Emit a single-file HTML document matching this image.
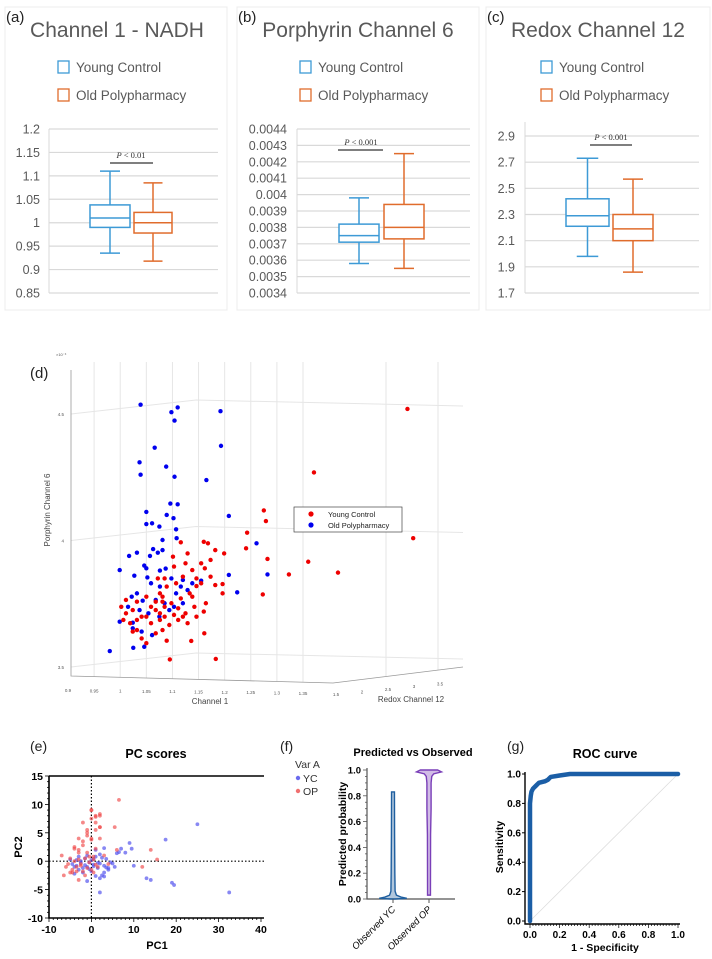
<!DOCTYPE html>
<html><head><meta charset="utf-8"><style>
body{margin:0;background:#fff;}
svg{display:block;font-family:"Liberation Sans",sans-serif;}
</style></head><body>
<svg id="fig" width="712" height="959" viewBox="0 0 712 959" xmlns="http://www.w3.org/2000/svg">
<rect width="712" height="959" fill="#fff"/>
<g id="topPanels"></g>
<g id="d3"></g>
<g id="pc"></g>
<g id="vio"></g>
<g id="roc"></g>
</svg>
<script>
// ---- data: box plots ----
const boxGroups = ["Young Control", "Old Polypharmacy"];
const aTicks = [1.2,1.15,1.1,1.05,1,0.95,0.9,0.85];
const aYC = [0.935,0.99,1.01,1.038,1.11];
const aOP = [0.918,0.978,1.0,1.022,1.085];
const bTicks = [0.0044,0.0043,0.0042,0.0041,0.004,0.0039,0.0038,0.0037,0.0036,0.0035,0.0034];
const bYC = [0.00358,0.00371,0.00375,0.00382,0.00398];
const bOP = [0.00355,0.00373,0.0038,0.00394,0.00425];
const cTicks = [2.9,2.7,2.5,2.3,2.1,1.9,1.7];
const cYC = [1.98,2.21,2.29,2.42,2.73];
const cOP = [1.86,2.10,2.19,2.30,2.57];
// ---- data: 3D scatter (Channel 1, Porphyrin x1e-3) ----
const d3Blue_c1 = [1.039,1.098,1.110,1.104,1.192,1.193,1.066,1.037,1.088,1.039,1.104,1.165,1.096,1.110,1.050,1.089,1.102,1.208,1.050,1.061,1.075,1.107,1.081,1.108,1.261,1.063,1.081,1.072,1.032,1.017,1.057,0.999,1.046,1.050,1.076,1.027,1.052,1.087,1.208,1.282,1.224,0.980,1.025,1.046,0.999,1.024,1.061,1.022,1.032,1.043,1.068,1.085,1.103,1.120,1.138,1.155,1.129,1.098,1.116,1.076,1.059,1.037,1.054,1.075,1.094,1.024,1.041,1.015,1.107,1.120];
const d3Blue_p6 = [4.537,4.507,4.526,4.474,4.511,4.374,4.367,4.309,4.292,4.260,4.252,4.239,4.146,4.143,4.113,4.101,4.088,4.097,4.065,4.068,4.055,4.044,4.002,4.009,3.989,3.966,3.962,3.952,3.952,3.939,3.939,3.883,3.901,3.890,3.881,3.861,3.854,3.889,3.864,3.866,3.795,3.563,3.576,3.580,3.679,3.675,3.626,3.778,3.791,3.762,3.765,3.752,3.738,3.844,3.831,3.841,3.804,3.850,3.818,3.818,3.831,3.725,3.712,3.699,3.725,3.653,3.640,3.738,3.791,3.752];
const d3Red_c1 = [1.550,1.371,1.275,1.279,1.243,1.241,1.561,1.360,1.417,1.323,1.282,1.273,1.199,1.196,1.196,1.168,1.160,1.182,1.173,1.162,1.116,1.129,1.101,1.103,1.138,1.155,1.146,1.133,1.164,1.160,1.146,1.125,1.111,1.085,1.068,1.050,1.032,1.011,1.002,1.024,1.041,1.059,1.076,1.094,1.081,1.068,1.032,1.024,1.041,1.050,1.089,1.136,1.161,1.095,1.183,1.076,1.089,1.107,1.120,1.072,1.081,1.098,1.116,1.138,1.142,1.173,1.182,1.011,1.006,1.019,1.059,1.068,1.076,1.085,1.032,1.050,1.155,1.146,1.125,1.085,1.111,1.129,1.120,1.103,1.081];
const d3Red_p6 = [4.520,4.269,4.119,4.077,4.031,3.969,4.009,3.916,3.873,3.866,3.927,3.787,3.949,3.828,3.791,3.989,3.995,3.962,3.923,3.890,3.993,3.949,3.936,3.897,3.883,3.831,3.820,3.791,3.752,3.719,3.699,3.712,3.732,3.738,3.758,3.778,3.758,3.765,3.738,3.725,3.699,3.673,3.686,3.666,3.646,3.633,3.646,3.640,3.613,3.594,3.604,3.603,3.633,3.530,3.532,3.791,3.818,3.831,3.857,3.850,3.778,3.752,3.771,3.778,3.738,3.857,3.824,3.712,3.686,3.673,3.738,3.725,3.712,3.699,3.686,3.699,3.910,3.850,3.910,3.850,3.686,3.673,3.699,3.706,3.758];
const d3C1Ticks = [0.9,0.95,1,1.05,1.1,1.15,1.2,1.25,1.3,1.35];
const d3P6Ticks = [3.5,4,4.5];
const d3RedoxTicks = [1.5,2,2.5,3,3.5];
// ---- data: PC scores ----
const pcYCx = [-5,-4.5,-4,-3.5,-3,-2.5,-2,-1.5,-1,-0.5,0,0.5,1,1.5,2,2.5,3,3.5,4,4.5,-4,-3,-2,-1,0,1,2,3,-3.5,-2.5,-1.5,-0.5,0.5,1.5,2.5,3.5,5,6,7,8,2,3,4,25,32.5,19,19.5,17.5,13,14,10,9,9.5,2,3,6.5,5.5,-1,1,0.5];
const pcYCy = [0.3,-0.5,-1,0.2,-1.5,-0.3,-2,0.5,-1,-0.2,-1.8,-0.6,0.8,-1.2,-0.4,-2.5,-0.8,0.4,-1.5,-0.2,-2.2,0.8,-1.2,1,0.2,-2.6,1.2,-2,-0.8,0,-0.7,-1.4,0.4,-0.3,0.6,-1.1,-0.4,1.4,2.2,1.5,-3,2.3,-1.2,6.5,-5.5,-3.8,-4.2,3.8,-3,-3.3,-0.8,3.2,2.2,-5.5,-2.7,1.6,-1,-3.5,2,-0.9];
const pcOPx = [-6,-5.5,-5,-4.5,-4,-3.5,-3,-2.5,-2,-1.5,-1,-0.5,0,0.5,1,1.5,-4,-3,-2,-1,0,1,-4.5,-3.5,-2.5,-1.5,-0.5,0.5,-3,-2,-1,0,1,2,-2,-1,0,1,2,0,1,2,6.5,14,15.5,12,5.5,1,2,0,2,-1,-3,-4,-7,6,4,-6.5,-5,-3,0.5,3];
const pcOPy = [-1,-0.5,0.5,-1.5,0,-1,0.3,-0.8,-1.8,0.5,-1.2,-0.2,-1.5,0.3,-0.6,-1,2.5,2,2.8,1.5,3.8,2.2,-2,-1.8,-0.5,-2.5,0.8,-2,4,3.5,5,4,5.5,6,6.8,4.5,9,8,8.3,7.5,6.8,4,10.8,2,0.3,-1,6,7.8,8,9,6,5.5,1.5,2.2,1,2,-0.5,-2.5,-2,-3.3,0.8,1];
const pcXTicks = [-10,0,10,20,30,40];
const pcYTicks = [15,10,5,0,-5,-10];
// ---- data: violin ----
const vioCats = ["Observed YC","Observed OP"];
const vioYC_p = [0,0.005,0.015,0.03,0.06,0.2,0.5,0.83];
const vioYC_w = [0.1,1,0.55,0.2,0.1,0.08,0.06,0.05];
const vioOP_p = [0.03,0.5,0.7,0.9,0.95,0.97,0.985,1.0];
const vioOP_w = [0.05,0.06,0.1,0.1,0.15,0.3,0.9,0.6];
const vioTicks = [0,0.2,0.4,0.6,0.8,1.0];
// ---- data: ROC ----
const rocFpr = [0,0,0,0,0.005,0.01,0.02,0.04,0.06,0.1,0.12,0.14,0.2,0.27,1];
const rocTpr = [0,0.1,0.5,0.8,0.85,0.88,0.9,0.92,0.94,0.95,0.96,0.98,0.99,1.0,1.0];
const rocTicks = [0,0.2,0.4,0.6,0.8,1.0];

const NS="http://www.w3.org/2000/svg";
function mk(parent, tag, attrs, text){
  const e=document.createElementNS(NS,tag);
  for(const k in attrs) e.setAttribute(k,attrs[k]);
  if(text!==undefined) e.textContent=text;
  parent.appendChild(e); return e;
}
function lin(d0,d1,r0,r1){return v=>r0+(v-d0)/(d1-d0)*(r1-r0);}

// ---------- TOP BOX PLOTS ----------
(function(){
const topG=document.getElementById('topPanels');
const YC='#3d9ad6', OP='#e06c2c';
const panels=[
 {lab:'(a)',title:'Channel 1 - NADH',card:[5,7,222,303],tx:117,lx:58,px0:49,px1:218,ytop:129,ybot:293,ticks:aTicks,yc:aYC,op:aOP,boxA:[90,130],boxB:[134,172],lblX:40,p:'0.01',pX:131,pY:158,pLine:[110,153],axTop:129},
 {lab:'(b)',title:'Porphyrin Channel 6',card:[237,7,242,303],tx:358,lx:300,px0:297,px1:470,ytop:129,ybot:293,ticks:bTicks,yc:bYC,op:bOP,boxA:[339,379],boxB:[384,424],lblX:287,p:'0.001',pX:361,pY:145,pLine:[338,383],axTop:129},
 {lab:'(c)',title:'Redox Channel 12',card:[486,7,224,303],tx:598,lx:541,px0:525,px1:699,ytop:136,ybot:293,ticks:cTicks,yc:cYC,op:cOP,boxA:[566,609],boxB:[613,653],lblX:515,p:'0.001',pX:611,pY:140,pLine:[590,632],axTop:122}
];
panels.forEach((P,i)=>{
  const g=mk(topG,'g',{});
  
  
  const card=mk(g,'rect',{x:P.card[0],y:P.card[1],width:P.card[2],height:P.card[3],fill:'#fff',stroke:'#ececec','stroke-width':1});
  
  
  const l=mk(g,'text',{x:P.card[0]+1,y:22,'font-size':15,fill:'#222'},P.lab);
  
  
  const t=mk(g,'text',{x:P.tx,y:37,'font-size':21,fill:'#595959','text-anchor':'middle'},P.title);
  
  
  [[YC,boxGroups[0],67],[OP,boxGroups[1],95]].forEach(([c,name,yy])=>{
    const r=mk(g,'rect',{x:P.lx,y:yy-6,width:11,height:12,fill:'none',stroke:c,'stroke-width':1.3});
    
    
    const tt=mk(g,'text',{x:P.lx+18,y:yy+5,'font-size':13.5,fill:'#595959'},name);
    
    
  });
  const t0=P.ticks[0], t1=P.ticks[P.ticks.length-1];
  const y=lin(t0,t1,P.ytop,P.ybot);
  const ax=mk(g,'line',{x1:P.px0,x2:P.px0,y1:P.axTop,y2:P.ybot,stroke:'#d9d9d9'});
  
  
  P.ticks.forEach(v=>{
    const gl=mk(g,'line',{x1:P.px0,x2:P.px1,y1:y(v),y2:y(v),stroke:'#d9d9d9','stroke-width':1.2});
    
    
    const tl=mk(g,'text',{x:P.lblX,y:y(v)+4.5,'font-size':12.5,fill:'#595959','text-anchor':'end'},String(v));
    
    
  });
  [[P.yc,P.boxA,YC,'box-young-control'],[P.op,P.boxB,OP,'box-old-polypharmacy']].forEach(([s,bx,c,nm])=>{
    const bg=mk(g,'g',{stroke:c,'stroke-width':1.5,fill:'none'});
    
    
    const cx=(bx[0]+bx[1])/2, cw=(bx[1]-bx[0])*0.25;
    mk(bg,'line',{x1:cx,x2:cx,y1:y(s[4]),y2:y(s[3])});
    mk(bg,'line',{x1:cx,x2:cx,y1:y(s[1]),y2:y(s[0])});
    mk(bg,'line',{x1:cx-cw,x2:cx+cw,y1:y(s[4]),y2:y(s[4])});
    mk(bg,'line',{x1:cx-cw,x2:cx+cw,y1:y(s[0]),y2:y(s[0])});
    mk(bg,'rect',{x:bx[0],y:y(s[3]),width:bx[1]-bx[0],height:y(s[1])-y(s[3]),fill:'#fff'});
    mk(bg,'line',{x1:bx[0],x2:bx[1],y1:y(s[2]),y2:y(s[2])});
  });
  const pt=mk(g,'text',{x:P.pX,y:P.pY,'font-size':8.5,fill:'#333','text-anchor':'middle','font-family':'Liberation Serif, serif'});
  
  
  mk(pt,'tspan',{'font-style':'italic'},'P');
  mk(pt,'tspan',{},' < '+P.p);
  const pl=mk(g,'line',{x1:P.pLine[0],x2:P.pLine[1],y1:P.pY+5,y2:P.pY+5,stroke:'#333','stroke-width':1.3});
  
  
});
})();

// ---------- 3D SCATTER ----------
(function(){
  const g=document.getElementById('d3');
  const lab=mk(g,'text',{x:30,y:378,'font-size':15,fill:'#222'},'(d)');
  
  
  const grid='#e6e6e6';
  const px=lin(0.9,1.35,68,303);
  const py=lin(3.5,4.5,667,414);
  const floorY=x=> x<=333 ? 676+(x-71)*(7/262) : 683-(x-333)*(16/130);
  d3C1Ticks.forEach(v=>{
    const x=px(v);
    if(v>0.9){const l=mk(g,'line',{x1:x,x2:x,y1:362,y2:floorY(x),stroke:grid,'stroke-width':1});
    
    }
  });
  [386,438].forEach(x=>{
    const l=mk(g,'line',{x1:x,x2:x,y1:362,y2:floorY(x),stroke:grid,'stroke-width':1});
    
    
  });
  d3P6Ticks.forEach(v=>{
    const y0=py(v);
    const l=mk(g,'polyline',{points:`71,${y0} 196,${y0-14} 463,${y0-8}`,fill:'none',stroke:grid,'stroke-width':1});
    
    
    const t=mk(g,'text',{x:64,y:y0+2,'font-size':4.5,fill:'#555','text-anchor':'end'},String(v));
    
    
  });
  const axl=mk(g,'polyline',{points:'71,370 71,676 333,683 463,667',fill:'none',stroke:'#999','stroke-width':0.8});
  
  
  d3C1Ticks.forEach(v=>{
    const x=px(v);
    const t=mk(g,'text',{x:x,y:692+(x-71)*0.012,'font-size':4.5,fill:'#555','text-anchor':'middle'},String(v));
    
    
  });
  const rx=lin(1.5,3.5,336,440);
  d3RedoxTicks.forEach(v=>{
    const x=rx(v);
    const t=mk(g,'text',{x:x,y:696-(x-336)*0.1,'font-size':4.5,fill:'#555','text-anchor':'middle'},String(v));
    
    
  });
  const xt=mk(g,'text',{x:210,y:704,'font-size':8,fill:'#444','text-anchor':'middle'},'Channel 1');
  
  
  const rt=mk(g,'text',{x:411,y:702,'font-size':8,fill:'#444','text-anchor':'middle'},'Redox Channel 12');
  
  
  const zt=mk(g,'text',{x:50,y:510,'font-size':8,fill:'#444','text-anchor':'middle',transform:'rotate(-90 50 510)'},'Porphyrin Channel 6');
  
  
  const ex=mk(g,'text',{x:56,y:356,'font-size':4,fill:'#555'},'×10⁻³');
  
  
  for(let i=0;i<Math.min(d3Blue_c1.length,d3Blue_p6.length);i++){
    const c=mk(g,'circle',{cx:px(d3Blue_c1[i]),cy:py(d3Blue_p6[i]),r:2.2,fill:'#0000ee'});
    
    
  }
  for(let i=0;i<Math.min(d3Red_c1.length,d3Red_p6.length);i++){
    const c=mk(g,'circle',{cx:px(d3Red_c1[i]),cy:py(d3Red_p6[i]),r:2.2,fill:'#ee0000'});
    
    
  }
  const lg=mk(g,'g',{});
  
  
  mk(lg,'rect',{x:294,y:507,width:108,height:25,fill:'#fff',stroke:'#444','stroke-width':0.7});
  mk(lg,'circle',{cx:311,cy:514,r:2.6,fill:'#ee0000'});
  mk(lg,'circle',{cx:311,cy:525,r:2.6,fill:'#0000ee'});
  const e1=mk(lg,'text',{x:328,y:517,'font-size':7.5,fill:'#222'},'Young Control');
  
  
  const e2=mk(lg,'text',{x:328,y:528,'font-size':7.5,fill:'#222'},'Old Polypharmacy');
  
  
})();

// ---------- PC SCORES ----------
(function(){
  const g=document.getElementById('pc');
  const x=lin(-10,40,49,261), y=lin(-10,15,918,776);
  const lab=mk(g,'text',{x:30,y:751,'font-size':14,fill:'#222'},'(e)');
  
  
  const t=mk(g,'text',{x:156,y:758,'font-size':12.5,'font-weight':'bold','text-anchor':'middle'},'PC scores');
  
  
  const fr=mk(g,'path',{d:`M49,776 H264 M49,776 V918 H264`,fill:'none',stroke:'#000','stroke-width':1.6});
  
  
  for(let v=-10;v<=40;v+=1){const l=mk(g,'line',{x1:x(v),x2:x(v),y1:918,y2:v%10===0?922:920,stroke:'#000','stroke-width':0.8});
    
    }
  for(let v=-10;v<=15;v+=1){const l=mk(g,'line',{x1:49,x2:v%5===0?45:47,y1:y(v),y2:y(v),stroke:'#000','stroke-width':0.8});
    
    }
  pcXTicks.forEach(v=>{const tl=mk(g,'text',{x:x(v),y:933,'font-size':10.5,'font-weight':'bold','text-anchor':'middle'},String(v));
    
    });
  pcYTicks.forEach(v=>{const tl=mk(g,'text',{x:43,y:y(v)+4,'font-size':10.5,'font-weight':'bold','text-anchor':'end'},String(v));
    
    });
  const z1=mk(g,'line',{x1:x(0),x2:x(0),y1:776,y2:918,stroke:'#000','stroke-dasharray':'1.5,2','stroke-width':1.2});
  
  
  const z2=mk(g,'line',{x1:49,x2:264,y1:y(0),y2:y(0),stroke:'#000','stroke-dasharray':'1.5,2','stroke-width':1.2});
  
  
  for(let i=0;i<Math.min(pcYCx.length,pcYCy.length);i++){const c=mk(g,'circle',{cx:x(pcYCx[i]),cy:y(pcYCy[i]),r:1.9,fill:'#5555ee','fill-opacity':0.7});
    
    }
  for(let i=0;i<Math.min(pcOPx.length,pcOPy.length);i++){const c=mk(g,'circle',{cx:x(pcOPx[i]),cy:y(pcOPy[i]),r:1.9,fill:'#f04848','fill-opacity':0.65});
    
    }
  const xt=mk(g,'text',{x:157,y:949,'font-size':11,'font-weight':'bold','text-anchor':'middle'},'PC1');
  
  
  const yt=mk(g,'text',{x:22,y:847,'font-size':11,'font-weight':'bold','text-anchor':'middle',transform:'rotate(-90 22 847)'},'PC2');
  
  
  const lg=mk(g,'g',{});
  
  
  mk(lg,'text',{x:295,y:768,'font-size':10.5,fill:'#333'},'Var A');
  mk(lg,'circle',{cx:298,cy:778,r:2.2,fill:'#6b6bee'});
  mk(lg,'circle',{cx:298,cy:791,r:2.2,fill:'#f07070'});
  const a=mk(lg,'text',{x:303,y:782,'font-size':10.5,fill:'#333'},'YC');
  
  
  const b=mk(lg,'text',{x:303,y:795,'font-size':10.5,fill:'#333'},'OP');
  
  
})();

// ---------- VIOLIN ----------
(function(){
  const g=document.getElementById('vio');
  const y=lin(0,1,899,770);
  const cx=[393,429];
  const lab=mk(g,'text',{x:280,y:751,'font-size':14,fill:'#222'},'(f)');
  
  
  const t=mk(g,'text',{x:413,y:756,'font-size':11,'font-weight':'bold','text-anchor':'middle'},'Predicted vs Observed');
  
  
  const ax=mk(g,'path',{d:'M367,768 V899 H455',fill:'none',stroke:'#555','stroke-width':1.2});
  
  
  for(let k=0;k<=20;k++){const v=k/20;const l=mk(g,'line',{x1:367,x2:k%4===0?363:365,y1:y(v),y2:y(v),stroke:'#555','stroke-width':0.8});
    
    }
  vioTicks.forEach(v=>{const tl=mk(g,'text',{x:361,y:y(v)+3.5,'font-size':9.5,'font-weight':'bold','text-anchor':'end'},v.toFixed(1));
    
    });
  const yt=mk(g,'text',{x:346,y:834,'font-size':10.5,'font-weight':'bold','text-anchor':'middle',transform:'rotate(-90 346 834)'},'Predicted probability');
  
  
  function violin(ps,ws,c,col,name){
    const half=13;
    const right=ps.map((p,i)=>`${c+ws[i]*half+0.8},${y(p)}`);
    const left=ps.map((p,i)=>`${c-ws[i]*half-0.8},${y(p)}`).reverse();
    const pth=mk(g,'polygon',{points:right.concat(left).join(' '),fill:col,'fill-opacity':0.35,stroke:col,'stroke-width':1.4});
    
    
  }
  violin(vioYC_p,vioYC_w,cx[0],'#1f5f9f','violin-observed-yc');
  violin(vioOP_p,vioOP_w,cx[1],'#7a3fb8','violin-observed-op');
  vioCats.forEach((c,i)=>{
    mk(g,'line',{x1:cx[i],x2:cx[i],y1:899,y2:903,stroke:'#555'});
    const tl=mk(g,'text',{x:cx[i]+3,y:910,'font-size':9.5,'font-style':'italic','text-anchor':'end',transform:`rotate(-45 ${cx[i]+3} 910)`},c);
    
    
  });
})();

// ---------- ROC ----------
(function(){
  const g=document.getElementById('roc');
  const x=lin(0,1,530,678), y=lin(0,1,921,774);
  const lab=mk(g,'text',{x:507,y:751,'font-size':14,fill:'#222'},'(g)');
  
  
  const t=mk(g,'text',{x:605,y:758,'font-size':12.5,'font-weight':'bold','text-anchor':'middle'},'ROC curve');
  
  
  const ax=mk(g,'path',{d:'M525,772 V924 H680',fill:'none',stroke:'#000','stroke-width':1.4});
  
  
  for(let k=0;k<=50;k++){const v=k/50;const l=mk(g,'line',{x1:x(v),x2:x(v),y1:924,y2:k%10===0?928:926,stroke:'#000','stroke-width':0.7});
    
    }
  rocTicks.forEach(v=>{
    const tl=mk(g,'text',{x:x(v),y:938,'font-size':10,'font-weight':'bold','text-anchor':'middle'},v.toFixed(1));
    
    
    const yl=mk(g,'text',{x:521,y:y(v)+3.5,'font-size':10,'font-weight':'bold','text-anchor':'end'},v.toFixed(1));
    
    
    mk(g,'line',{x1:525,x2:522,y1:y(v),y2:y(v),stroke:'#000'});
  });
  const diag=mk(g,'line',{x1:x(0),y1:y(0),x2:x(1),y2:y(1),stroke:'#ddd','stroke-width':0.8});
  
  
  const pts=rocFpr.map((f,i)=>`${x(f)},${y(rocTpr[i])}`).join(' ');
  const cur=mk(g,'polyline',{points:pts,fill:'none',stroke:'#1b5ea6','stroke-width':4.5,'stroke-linejoin':'round','stroke-linecap':'round'});
  
  
  const xt=mk(g,'text',{x:605,y:951,'font-size':10.5,'font-weight':'bold','text-anchor':'middle'},'1 - Specificity');
  
  
  const yt=mk(g,'text',{x:503,y:847,'font-size':10.5,'font-weight':'bold','text-anchor':'middle',transform:'rotate(-90 503 847)'},'Sensitivity');
  
  
})();
</script>
</body></html>
